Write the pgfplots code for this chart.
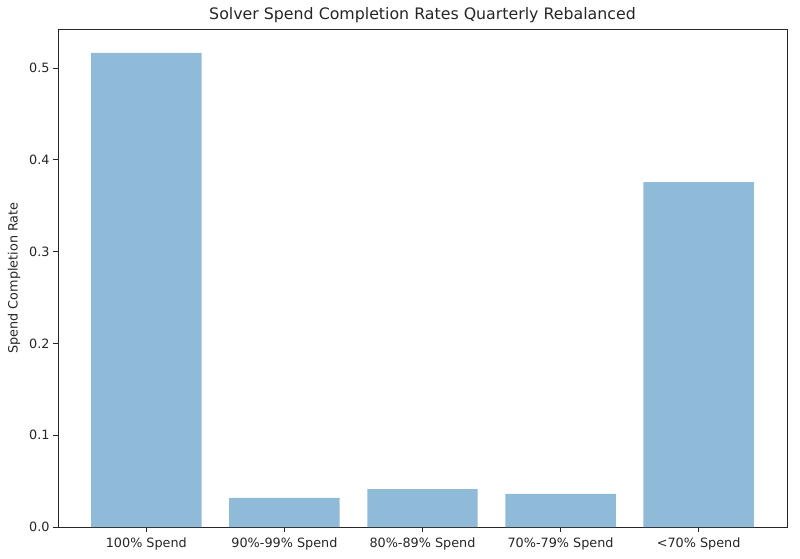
\documentclass[border=0pt]{standalone}
\usepackage{pgfplots}
\pgfplotsset{compat=1.18}
\usepackage{fontspec}
\setmainfont{DejaVu Sans}
\definecolor{barblue}{HTML}{8FBBD9}
\definecolor{spine}{HTML}{262626}
\begin{document}
\begin{tikzpicture}[x=1pt,y=1pt]
\path[use as bounding box] (0,0) rectangle (800,558);
\begin{axis}[
  at={(58pt,31pt)}, anchor=south west,
  width=729pt, height=498pt, scale only axis,
  xmin=-0.64, xmax=4.64,
  ymin=0, ymax=0.5425,
  xtick={0,1,2,3,4},
  xticklabels={100\% Spend,90\%-99\% Spend,80\%-89\% Spend,70\%-79\% Spend,<70\% Spend},
  ytick={0,0.1,0.2,0.3,0.4,0.5},
  yticklabels={0.0,0.1,0.2,0.3,0.4,0.5},
  tick align=outside, major tick length=5pt,
  tick style={spine, line width=0.9pt},
  axis line style={spine, line width=0.9pt},
  xtick pos=bottom, ytick pos=left,
  ticklabel style={font=\fontsize{12.8}{14}\selectfont, text=spine},
  xticklabel style={yshift=-2pt},
  title={Solver Spend Completion Rates Quarterly Rebalanced},
  title style={font=\fontsize{15.8}{18}\selectfont, text=spine, yshift=-3pt},
  ylabel={Spend Completion Rate},
  ylabel style={font=\fontsize{12.8}{14}\selectfont, text=spine},
  every axis y label/.append style={at={(ticklabel cs:0.5)}, yshift=2pt},
]
\addplot[ybar, bar width=0.8, fill=barblue, draw=none] coordinates {
  (0,0.5165) (1,0.0316) (2,0.0414) (3,0.0360) (4,0.3758)
};
\end{axis}
\end{tikzpicture}
\end{document}
